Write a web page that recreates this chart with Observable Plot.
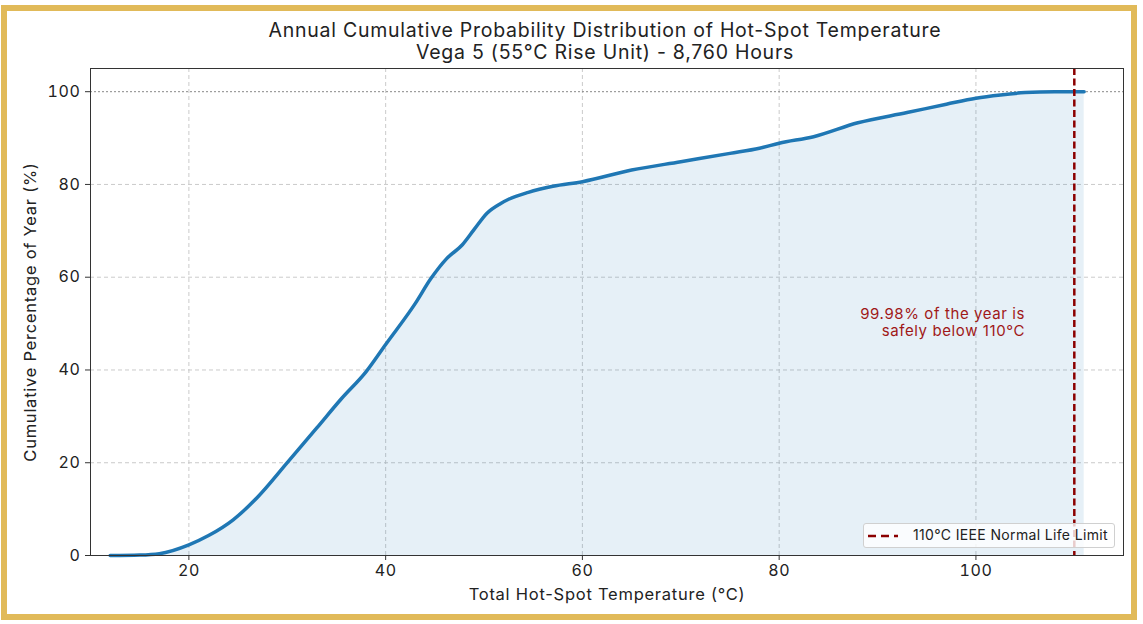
<!DOCTYPE html>
<html><head><meta charset="utf-8">
<script src="https://cdn.jsdelivr.net/npm/d3@7"></script>
<script src="https://cdn.jsdelivr.net/npm/@observablehq/plot@0.6"></script>
<style>
body{margin:0;background:#fff;font-family:Inter,"Open Sans",sans-serif;}
#wrap{position:relative;width:1143px;height:624px;overflow:hidden;background:#fff;}
#frame{position:absolute;left:1px;top:5px;width:1124px;height:603px;border:6.5px solid #E1BA59;pointer-events:none;z-index:3;}
#title{position:absolute;left:0;top:19px;width:1210px;text-align:center;font-size:19.5px;letter-spacing:0.75px;line-height:22px;color:#222;z-index:2;}
#chart{position:absolute;left:0;top:62px;}
#legend{position:absolute;left:863px;top:523px;width:250px;height:23px;background:rgba(255,255,255,0.8);border:1px solid #d0d0d0;border-radius:3px;z-index:2;font-size:14px;letter-spacing:0.35px;color:#222;}
#legend svg{position:absolute;left:4px;top:6px;}
#legend span{position:absolute;left:49px;top:2px;}
</style></head>
<body>
<div id="wrap">
  <div id="title">Annual Cumulative Probability Distribution of Hot-Spot Temperature<br>Vega 5 (55°C Rise Unit) - 8,760 Hours</div>
  <div id="chart"></div>
  <div id="legend"><svg width="32" height="12"><line x1="0" y1="6" x2="30" y2="6" stroke="#8b0000" stroke-width="2.5" stroke-dasharray="8,5"/></svg><span>110°C IEEE Normal Life Limit</span></div>
  <div id="frame"></div>
</div>
<script>
const temps  = [12, 15, 17, 20, 22, 24.5, 27, 30, 33, 35.5, 38, 40, 43, 44.6, 46.2, 47.8, 49, 50.3, 51.7, 52.5, 54.5, 57, 60, 65, 70, 75, 78, 80, 83.5, 88, 93, 97, 100, 102.5, 105, 108, 111];
const cumPct = [0, 0.1, 0.4, 2.3, 4.3, 7.7, 12.6, 20, 27.5, 33.8, 39.6, 45.5, 54.3, 59.7, 64, 67, 70.3, 73.8, 75.9, 76.8, 78.3, 79.6, 80.6, 83.1, 84.9, 86.7, 87.8, 88.9, 90.3, 93.3, 95.5, 97.3, 98.6, 99.3, 99.8, 100, 100];
const xTicks = [20, 40, 60, 80, 100];
const yTicks = [0, 20, 40, 60, 80, 100];
const limitTemp = 110;
const annotation = "99.98% of the year is\nsafely below 110°C";

const data = temps.map((t, i) => ({t, p: cumPct[i]}));
const font = "Inter, 'Open Sans', sans-serif";

const chart = Plot.plot({
  width: 1143, height: 562,
  marginTop: 6, marginBottom: 69, marginLeft: 90, marginRight: 20,
  x: {domain: [10, 115]},
  y: {domain: [0, 105]},
  style: {fontFamily: font, fontSize: "16px", color: "#222", background: "transparent", letterSpacing: "0.6px"},
  marks: [
    Plot.gridX(xTicks, {stroke: "#c4c4c4", strokeOpacity: 1, strokeDasharray: "4,3", strokeWidth: 0.9}),
    Plot.gridY(yTicks.filter(d => d !== 100), {stroke: "#c4c4c4", strokeOpacity: 1, strokeDasharray: "4,3", strokeWidth: 0.9}),
    Plot.areaY(data, {x: "t", y: "p", fill: "#1f77b4", fillOpacity: 0.11, curve: "monotone-x"}),
    Plot.ruleY([100], {stroke: "#888", strokeDasharray: "2,2", strokeWidth: 1}),
    Plot.lineY(data, {x: "t", y: "p", stroke: "#1f77b4", strokeWidth: 3.5, curve: "monotone-x"}),
    Plot.ruleX([limitTemp], {stroke: "#8b0000", strokeWidth: 2.5, strokeDasharray: "7,3.5"}),
    Plot.text([annotation], {x: 105, y: 50.4, text: d => d, textAnchor: "end", fill: "#a01818", fontSize: 15, lineHeight: 1.15}),
    Plot.frame({stroke: "#333", strokeWidth: 1}),
    Plot.axisX(xTicks, {tickSize: 5, tickPadding: 4, stroke: "#333", fill: "#222", fontSize: 16,
      label: "Total Hot-Spot Temperature (°C)", labelAnchor: "center", labelArrow: "none", labelOffset: 44}),
    Plot.axisY(yTicks, {tickSize: 5, tickPadding: 5, stroke: "#333", fill: "#222", fontSize: 16,
      label: "Cumulative Percentage of Year (%)", labelAnchor: "center", labelArrow: "none", labelOffset: 66})
  ]
});
d3.select(chart).selectAll('g[aria-label="x-axis label"] text, g[aria-label="y-axis label"] text')
  .attr("font-size", "16.5px").style("letter-spacing", "0.75px");
document.getElementById("chart").appendChild(chart);
</script>
</body></html>
